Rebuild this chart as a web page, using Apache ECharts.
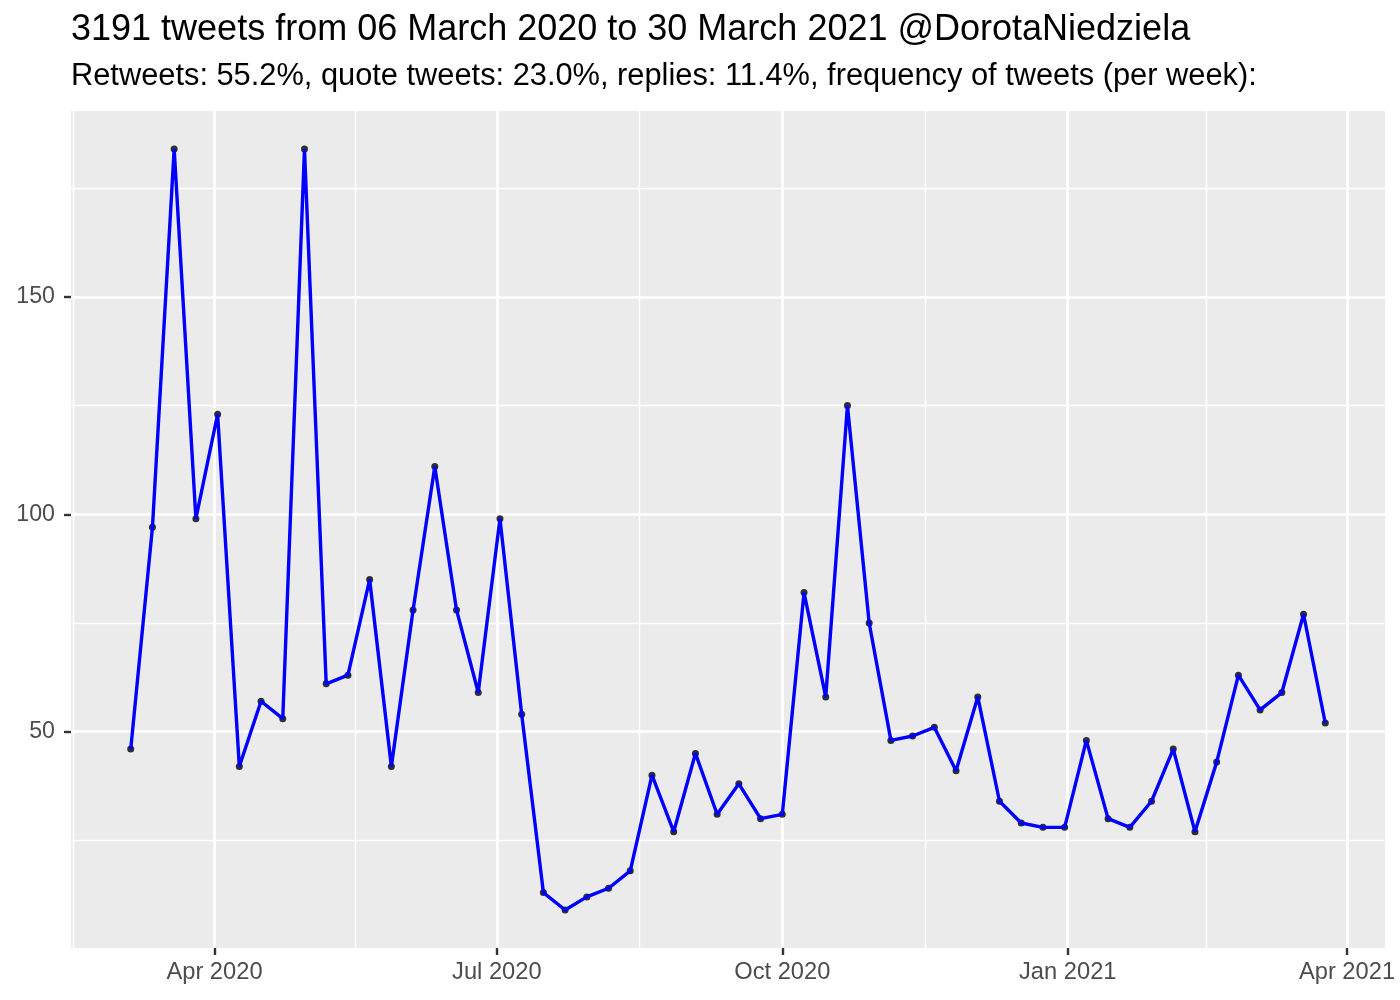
<!DOCTYPE html>
<html>
<head>
<meta charset="utf-8">
<script src="https://cdn.jsdelivr.net/npm/echarts@6/dist/echarts.min.js"></script>
<style>
html,body{margin:0;padding:0;background:#fff;}
#chart{width:1400px;height:1000px;}
</style>
</head>
<body>
<div id="chart"></div>
<script>
// ---- data ----
var weeks = [
  '2020-03-05','2020-03-12','2020-03-19','2020-03-26','2020-04-02','2020-04-09','2020-04-16','2020-04-23','2020-04-30',
  '2020-05-07','2020-05-14','2020-05-21','2020-05-28','2020-06-04','2020-06-11','2020-06-18','2020-06-25',
  '2020-07-02','2020-07-09','2020-07-16','2020-07-23','2020-07-30','2020-08-06','2020-08-13','2020-08-20','2020-08-27',
  '2020-09-03','2020-09-10','2020-09-17','2020-09-24','2020-10-01','2020-10-08','2020-10-15','2020-10-22','2020-10-29',
  '2020-11-05','2020-11-12','2020-11-19','2020-11-26','2020-12-03','2020-12-10','2020-12-17','2020-12-24','2020-12-31',
  '2021-01-07','2021-01-14','2021-01-21','2021-01-28','2021-02-04','2021-02-11','2021-02-18','2021-02-25',
  '2021-03-04','2021-03-11','2021-03-18','2021-03-25'
];
var tweetsPerWeek = [
  46, 97, 184, 99, 123, 42, 57, 53, 184,
  61, 63, 85, 42, 78, 111, 78, 59,
  99, 54, 13, 9, 12, 14, 18, 40, 27,
  45, 31, 38, 30, 31, 82, 58, 125, 75,
  48, 49, 51, 41, 58, 34, 29, 28, 28,
  48, 30, 28, 34, 46, 27, 43, 63,
  55, 59, 77, 52
];
var xMajorBreaks = ['2020-04-01','2020-07-01','2020-10-01','2021-01-01','2021-04-01'];
var xMajorLabels = ['Apr 2020','Jul 2020','Oct 2020','Jan 2021','Apr 2021'];
var xMinorBreaks = ['2020-02-15T12:00','2020-05-16T12:00','2020-08-16','2020-11-16','2021-02-14T12:00'];
var yMajorBreaks = [50, 100, 150];
var yMinorBreaks = [25, 75, 125, 175];
var titleText = '3191 tweets from 06 March 2020 to 30 March 2021 @DorotaNiedziela';
var subtitleText = 'Retweets: 55.2%, quote tweets: 23.0%, replies: 11.4%, frequency of tweets (per week):';

function ts(s) {
  var p = s.split('T');
  var d = p[0].split('-');
  var h = p[1] ? parseInt(p[1].split(':')[0], 10) : 0;
  return Date.UTC(+d[0], +d[1] - 1, +d[2], h);
}

var pairs = weeks.map(function (w, i) { return [ts(w), tweetsPerWeek[i]]; });
var xMajorTs = xMajorBreaks.map(ts);
var xMin = Date.UTC(2020, 1, 14, 18);
var xMax = Date.UTC(2021, 3, 13, 6);

var gridLines = [];
xMajorBreaks.forEach(function (d) { gridLines.push({ xAxis: ts(d), lineStyle: { width: 2.7 } }); });
xMinorBreaks.forEach(function (d) { gridLines.push({ xAxis: ts(d), lineStyle: { width: 1.4 } }); });
yMajorBreaks.forEach(function (v) { gridLines.push({ yAxis: v, lineStyle: { width: 2.7 } }); });
yMinorBreaks.forEach(function (v) { gridLines.push({ yAxis: v, lineStyle: { width: 1.4 } }); });

var chart = echarts.init(document.getElementById('chart'), null, { renderer: 'canvas' });
chart.setOption({
  animation: false,
  backgroundColor: '#ffffff',
  textStyle: { fontFamily: 'Liberation Sans, Arial, sans-serif' },
  title: [
    { text: titleText, left: 71, top: 12, padding: 0,
      textStyle: { fontSize: 36, fontWeight: 'normal', color: '#000000', fontFamily: 'Liberation Sans' } },
    { text: subtitleText, left: 71, top: 61, padding: 0,
      textStyle: { fontSize: 30.8, fontWeight: 'normal', color: '#000000', fontFamily: 'Liberation Sans' } }
  ],
  grid: {
    left: 71, top: 111, width: 1314, height: 837,
    containLabel: false, outerBoundsMode: 'none',
    show: true, backgroundColor: '#EBEBEB', borderWidth: 0
  },
  xAxis: {
    type: 'value',
    min: xMin, max: xMax,
    axisLine: { show: false },
    splitLine: { show: false },
    axisTick: { show: true, inside: false, length: 7, customValues: xMajorTs,
      lineStyle: { color: '#333333', width: 2.4 } },
    axisLabel: {
      customValues: xMajorTs,
      fontSize: 23.7, color: '#4D4D4D', margin: 12, fontFamily: 'Liberation Sans',
      formatter: function (v) {
        var i = xMajorTs.indexOf(v);
        return i >= 0 ? xMajorLabels[i] : '';
      }
    }
  },
  yAxis: {
    type: 'value',
    min: 0.25, max: 192.75,
    axisLine: { show: false },
    splitLine: { show: false },
    axisTick: { show: true, inside: false, length: 7, customValues: yMajorBreaks,
      lineStyle: { color: '#333333', width: 2.4 } },
    axisLabel: {
      customValues: yMajorBreaks,
      fontSize: 23.2, color: '#4D4D4D', margin: 16, fontFamily: 'Liberation Sans'
    }
  },
  series: [
    {
      type: 'line', name: 'grid', data: [], silent: true, z: 1,
      markLine: {
        silent: true, symbol: ['none', 'none'], animation: false, z: 1,
        label: { show: false },
        lineStyle: { color: '#ffffff', type: 'solid' },
        emphasis: { disabled: true },
        data: gridLines
      }
    },
    {
      type: 'scatter', name: 'points', data: pairs, z: 3,
      symbol: 'circle', symbolSize: 7,
      itemStyle: { color: '#000000' }, silent: true
    },
    {
      type: 'line', name: 'tweets', data: pairs, z: 4,
      showSymbol: false, symbol: 'none',
      lineStyle: { color: '#0000FF', width: 3.4 }, silent: true
    }
  ]
});
</script>
</body>
</html>
